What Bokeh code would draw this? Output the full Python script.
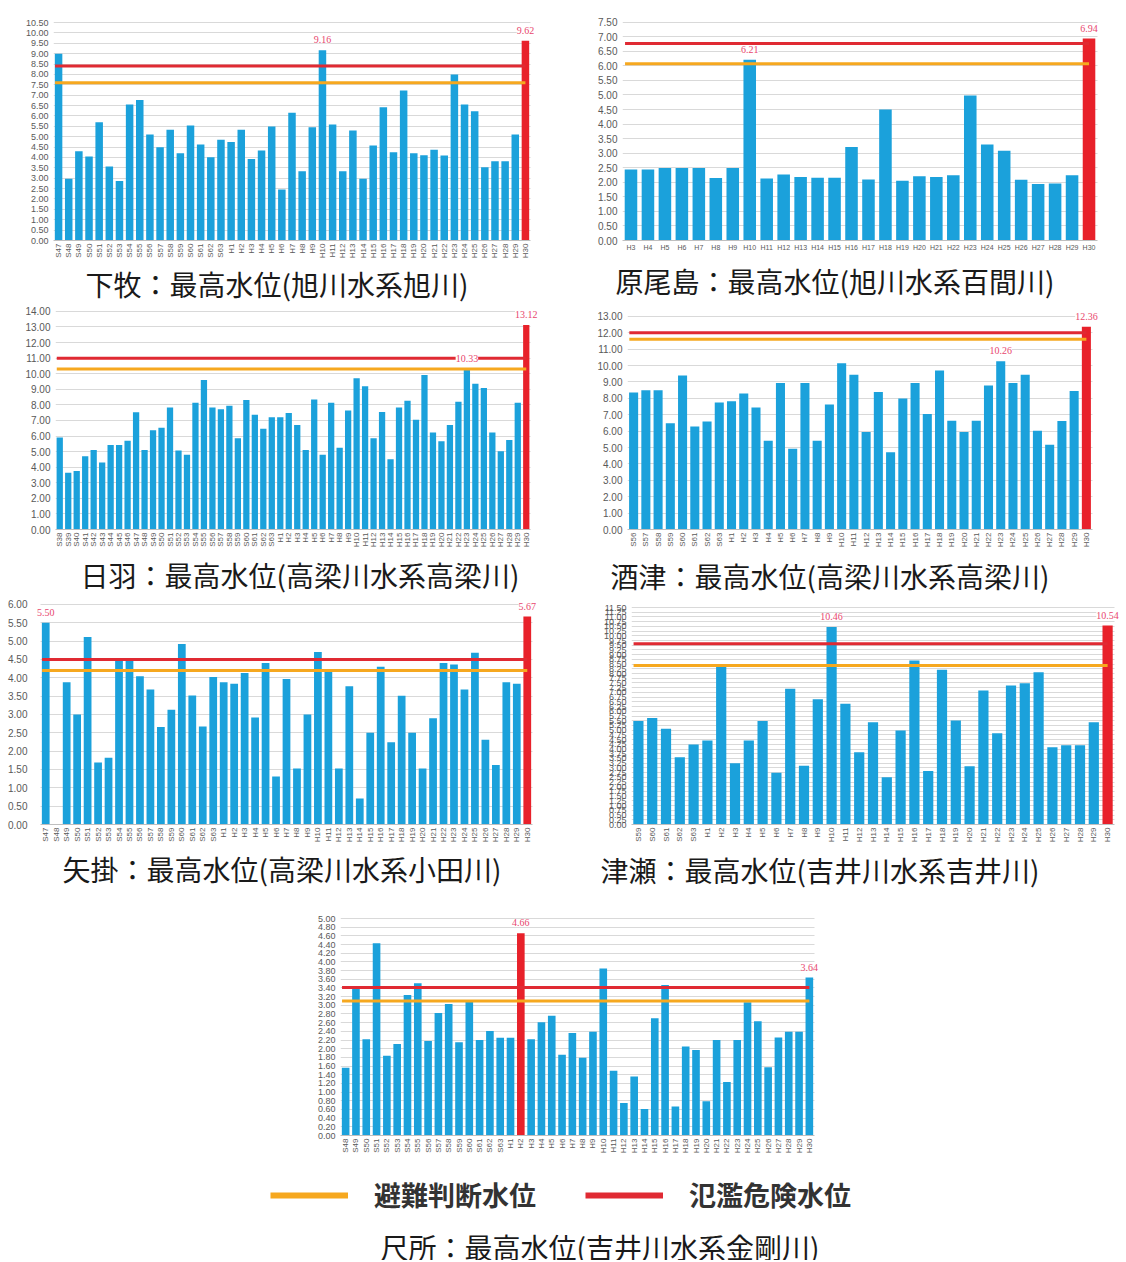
import math
from bokeh.plotting import figure
from bokeh.models import (ColumnDataSource, Range1d, FixedTicker, PrintfTickFormatter,
                          LabelSet, Label, Title, Legend, LegendItem)
from bokeh.layouts import column, row
from bokeh.embed import file_html
from bokeh.resources import INLINE

NaN = float("nan")

# ---------------- data ----------------
def yrs(s_from, h_to=30):
    return [f"S{y}" for y in range(s_from, 64)] + [f"H{y}" for y in range(1, h_to + 1)]

shimomaki_labels = yrs(47)
shimomaki = [8.99, 2.97, 4.30, 4.04, 5.70, 3.56, 2.86, 6.55, 6.77, 5.10, 4.49, 5.33, 4.20,
             5.54, 4.62, 4.01, 4.85, 4.75, 5.33, 3.93, 4.33, 5.49, 2.46, 6.15, 3.34, 5.46,
             9.16, 5.59, 3.34, 5.30, 2.97, 4.57, 6.42, 4.25, 7.22, 4.20, 4.11, 4.37, 4.09,
             7.99, 6.55, 6.23, 3.53, 3.82, 3.82, 5.10, 9.62]
shimomaki_warn, shimomaki_danger = 7.60, 8.40

haraojima_labels = [f"H{y}" for y in range(3, 31)]
haraojima = [2.44, 2.44, 2.49, 2.49, 2.49, 2.15, 2.49, 6.21, 2.13, 2.27, 2.18, 2.16, 2.16,
             3.21, 2.10, 4.50, 2.05, 2.21, 2.18, 2.24, 4.98, 3.30, 3.08, 2.09, 1.94, 1.96,
             2.24, 6.94]
haraojima_warn, haraojima_danger = 6.07, 6.77

hiwa_labels = yrs(38)
hiwa = [5.91, 3.65, 3.76, 4.70, 5.11, 4.30, 5.43, 5.43, 5.70, 7.52, 5.11, 6.37, 6.53, 7.83,
        5.07, 4.80, 8.14, 9.60, 7.83, 7.72, 7.95, 5.85, 8.31, 7.37, 6.47, 7.20, 7.20, 7.47,
        6.70, 5.11, 8.35, 4.80, 8.14, 5.24, 7.64, 9.71, 9.19, 5.85, 7.54, 4.51, 7.83, 8.27,
        7.05, 9.92, 6.22, 5.66, 6.70, 8.20, 10.33, 9.35, 9.08, 6.22, 5.03, 5.74, 8.14, 13.12]
hiwa_warn, hiwa_danger = 10.30, 11.00

sakazu_labels = yrs(56)
sakazu = [8.35, 8.49, 8.49, 6.48, 9.40, 6.28, 6.58, 7.75, 7.83, 8.29, 7.44, 5.41, 8.93, 4.93,
          8.93, 5.41, 7.63, 10.14, 9.44, 5.94, 8.39, 4.71, 7.99, 8.93, 7.04, 9.70, 6.64, 5.94,
          6.64, 8.79, 10.26, 8.93, 9.44, 6.02, 5.17, 6.62, 8.45, 12.36]
sakazu_warn, sakazu_danger = 11.60, 12.00

yakage_labels = yrs(47)
yakage = [5.50, NaN, 3.88, 3.00, 5.11, 1.69, 1.82, 4.50, 4.50, 4.04, 3.68, 2.66, 3.13, 4.92,
          3.52, 2.67, 4.02, 3.88, 3.84, 4.13, 2.92, 4.40, 1.31, 3.97, 1.53, 3.00, 4.70, 4.20,
          1.53, 3.77, 0.71, 2.50, 4.30, 2.24, 3.51, 2.50, 1.53, 2.90, 4.40, 4.36, 3.68, 4.68,
          2.31, 1.62, 3.88, 3.84, 5.67]
yakage_warn, yakage_danger = 4.20, 4.50

tsuse_labels = yrs(59)
tsuse = [5.48, 5.64, 5.07, 3.57, 4.24, 4.45, 8.37, 3.25, 4.45, 5.48, 2.74, 7.19, 3.11, 6.64,
         10.46, 6.40, 3.83, 5.42, 2.51, 4.98, 8.69, 2.83, 8.20, 5.51, 3.09, 7.10, 4.84, 7.37,
         7.49, 8.07, 4.10, 4.20, 4.20, 5.42, 10.54]
tsuse_warn, tsuse_danger = 8.43, 9.58

shakuso_labels = yrs(48)
shakuso = [1.56, 3.39, 2.22, 4.43, 1.84, 2.11, 3.24, 3.51, 2.18, 2.82, 3.03, 2.15, 3.09, 2.20,
           2.41, 2.25, 2.25, 4.66, 2.22, 2.61, 2.76, 1.86, 2.36, 1.79, 2.39, 3.85, 1.49, 0.75,
           1.36, 0.61, 2.70, 3.47, 0.67, 2.05, 1.97, 0.79, 2.20, 1.23, 2.20, 3.07, 2.63, 1.57,
           2.26, 2.39, 2.39, 3.64]
shakuso_warn, shakuso_danger = 3.10, 3.41

captions = [
    "下牧：最高水位(旭川水系旭川)",
    "原尾島：最高水位(旭川水系百間川)",
    "日羽：最高水位(高梁川水系高梁川)",
    "酒津：最高水位(高梁川水系高梁川)",
    "矢掛：最高水位(高梁川水系小田川)",
    "津瀬：最高水位(吉井川水系吉井川)",
    "尺所：最高水位(吉井川水系金剛川)",
]
legend_labels = ["避難判断水位", "氾濫危険水位"]

# ---------------- style ----------------
BLUE = "#1ba1db"
RED_BAR = "#e8212a"
RED_LINE = "#e02a33"
ORANGE = "#f6a81f"
VAL_COLOR = "#e8466e"
GRID = "#d9d9d9"
TICK_FONT = "Liberation Sans"
CAP_FONT = "Noto Sans CJK JP"


def make_chart(vals, labels, warn, danger, ymax, ystep, geom,
               xlab_size="8px", ylab_size="10px", horizontal=False):
    # geom: figure w, h, plot-area L, R, T, B (px), and label padding left/right/top (px)
    W, H, L, R, T, B, pl, pr, pt = geom
    n = len(vals)
    clean = [(-1 if (v != v) else v) for v in vals]
    top_i = max(range(n), key=lambda i: clean[i])
    prev_i = max(range(n - 1), key=lambda i: clean[i])
    colors = [RED_BAR if i == top_i else BLUE for i in range(n)]

    ux = n / (R - L)
    uy = ymax / (B - T)
    p = figure(width=W, height=H, output_backend="svg", toolbar_location=None,
               x_range=Range1d(-0.5 - pl * ux, n - 0.5 + pr * ux),
               y_range=Range1d(0, ymax + pt * uy),
               min_border_left=L - pl, min_border_right=W - R - pr,
               min_border_top=T - pt, min_border_bottom=H - B, title=None)
    p.outline_line_color = None
    p.background_fill_color = "white"
    p.border_fill_color = "white"

    yt = [round(i * ystep, 4) for i in range(int(round(ymax / ystep)) + 1)]
    p.yaxis.ticker = FixedTicker(ticks=yt)
    p.ygrid.ticker = FixedTicker(ticks=yt)
    p.ygrid.grid_line_color = GRID
    try:
        p.ygrid.cross_bounds = (-0.5, n - 0.5)
    except Exception:
        pass
    p.xgrid.grid_line_color = None
    p.yaxis.formatter = PrintfTickFormatter(format="%.2f")
    p.yaxis.axis_line_color = None
    p.yaxis.major_tick_line_color = None
    p.yaxis.minor_tick_line_color = None
    p.yaxis.major_tick_out = 0
    p.yaxis.major_label_text_font = TICK_FONT
    p.yaxis.major_label_text_font_size = ylab_size
    p.yaxis.major_label_text_color = "#595959"
    p.yaxis.major_label_standoff = 5

    p.xaxis.ticker = FixedTicker(ticks=list(range(n)))
    p.xaxis.major_label_overrides = {i: lab for i, lab in enumerate(labels)}
    p.xaxis.bounds = (-0.5, n - 0.5)
    p.xaxis.axis_line_color = "#bfbfbf"
    p.xaxis.major_tick_line_color = None
    p.xaxis.minor_tick_line_color = None
    p.xaxis.major_tick_out = 0
    p.xaxis.major_tick_in = 0
    p.xaxis.major_label_text_font = TICK_FONT
    p.xaxis.major_label_text_font_size = xlab_size
    p.xaxis.major_label_text_color = "#595959"
    p.xaxis.major_label_standoff = 3
    if not horizontal:
        p.xaxis.major_label_orientation = math.pi / 2

    src = ColumnDataSource(dict(x=list(range(n)), top=vals, color=colors))
    p.vbar(x="x", top="top", width=0.74, fill_color="color", line_color=None, source=src)

    p.line(x=[-0.35, n - 1], y=[warn, warn], line_color=ORANGE, line_width=3)
    p.line(x=[-0.35, n - 1], y=[danger, danger], line_color=RED_LINE, line_width=3)

    lab_idx = [prev_i, n - 1]
    lsrc = ColumnDataSource(dict(x=lab_idx, y=[vals[i] for i in lab_idx],
                                 t=[f"{vals[i]:.2f}" for i in lab_idx]))
    p.add_layout(LabelSet(x="x", y="y", text="t", source=lsrc, y_offset=7,
                          text_align="center", text_baseline="bottom",
                          text_font=TICK_FONT, text_font_size="10px", text_color=VAL_COLOR,
                          background_fill_color="white"))
    return p


def add_caption(p, caption, offset, standoff):
    p.add_layout(Title(text=caption, align="left", offset=offset, standoff=standoff,
                       text_font=CAP_FONT, text_font_size="28px",
                       text_font_style="normal", text_color="#1a1a1a"), "below")


#                W     H    L    R    T    B   pl  pr  pt
f1 = make_chart(shimomaki, shimomaki_labels, shimomaki_warn, shimomaki_danger, 10.5, 0.5,
                (565, 306, 53, 530, 22, 240, 0, 16, 14), ylab_size="9px")
add_caption(f1, captions[0], 32, 0)
f2 = make_chart(haraojima, haraojima_labels, haraojima_warn, haraojima_danger, 7.5, 0.5,
                (561, 306, 57, 532, 20, 243, 0, 12, 14), horizontal=True, xlab_size="7px")
add_caption(f2, captions[1], -7, 10)
f3 = make_chart(hiwa, hiwa_labels, hiwa_warn, hiwa_danger, 14, 1,
                (565, 292, 55, 530, 5, 228, 0, 16, 5))
add_caption(f3, captions[2], 25, 4)
f4 = make_chart(sakazu, sakazu_labels, sakazu_warn, sakazu_danger, 13, 1,
                (561, 292, 62, 527, 10, 226, 0, 20, 10))
add_caption(f4, captions[3], -17, 6)
f5 = make_chart(yakage, yakage_labels, yakage_warn, yakage_danger, 6, 0.5,
                (565, 295, 40, 532, 6, 229, 8, 16, 6))
add_caption(f5, captions[4], 30, 3)
f6 = make_chart(tsuse, tsuse_labels, tsuse_warn, tsuse_danger, 11.5, 0.25,
                (561, 295, 66, 549, 9, 226, 0, 12, 9), ylab_size="9px")
add_caption(f6, captions[5], -31, 5)
f7 = make_chart(shakuso, shakuso_labels, shakuso_warn, shakuso_danger, 5, 0.2,
                (1126, 270, 340, 814, 25, 242, 0, 18, 14), ylab_size="9px")

# legend + caption strip for the last chart
fl = figure(width=1126, height=97, output_backend="svg", toolbar_location=None,
            x_range=Range1d(0, 1126), y_range=Range1d(0, 97), min_border=0,
            x_axis_type=None, y_axis_type=None, title=None)
fl.outline_line_color = None
fl.xgrid.grid_line_color = None
fl.ygrid.grid_line_color = None
# off-canvas swatch renderers (only their legend glyphs are seen)
lg_w = fl.line(x=[-200, -100], y=[-50, -50], line_color=ORANGE, line_width=6)
lg_d = fl.line(x=[-200, -100], y=[-50, -50], line_color=RED_LINE, line_width=6)
legend = Legend(items=[LegendItem(label=legend_labels[0], renderers=[lg_w]),
                       LegendItem(label=legend_labels[1], renderers=[lg_d])],
                orientation="horizontal", location=(270, 46), padding=0, margin=0,
                glyph_width=78, glyph_height=24, label_standoff=26, spacing=49,
                label_text_font=CAP_FONT, label_text_font_style="bold",
                label_text_font_size="27px", label_text_color="#333333",
                border_line_color=None, background_fill_alpha=0)
fl.add_layout(legend)
fl.add_layout(Label(x=380, y=14, text=captions[6], text_baseline="middle",
                    text_font=CAP_FONT, text_font_size="28px", text_color="#1a1a1a"))

layout = column(row(f1, f2), row(f3, f4), row(f5, f6), row(f7), row(fl))
open("out.html", "w").write(file_html(layout, INLINE, "最高水位"))
